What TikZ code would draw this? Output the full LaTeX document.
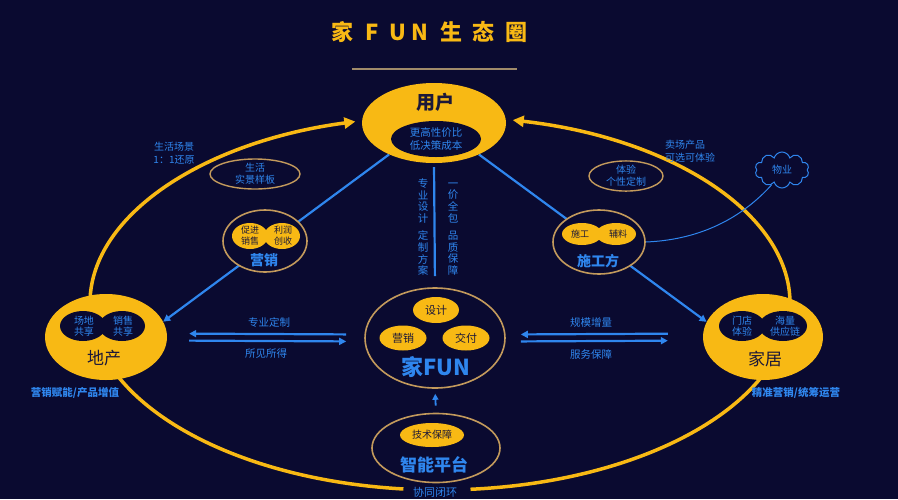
\documentclass[tikz,border=0pt]{standalone}
\usepackage{fontspec}
\setmainfont{Noto Sans CJK SC}
\usetikzlibrary{shapes.geometric,shapes.symbols,arrows.meta}
\pgfdeclarelayer{bgl}
\pgfdeclarelayer{midl}
\pgfsetlayers{bgl,midl,main}
\definecolor{bgc}{HTML}{0A0A30}
\definecolor{gold}{HTML}{F8B914}
\definecolor{sky}{HTML}{2F86EE}
\definecolor{tanc}{HTML}{C39A5C}
\definecolor{ink}{HTML}{1C1838}
\definecolor{rulec}{HTML}{A08B6A}
\newcommand{\fsz}[2]{\fontsize{#1}{#2}\selectfont}
\begin{document}
\begin{tikzpicture}[x=1pt,y=-1pt,
  goldell/.style={ellipse, fill=gold, draw=none, inner sep=0pt},
  darkell/.style={ellipse, fill=bgc, draw=none, inner sep=0pt},
  ring/.style={ellipse, fill=bgc, draw=tanc, line width=1.6pt, inner sep=0pt},
  thinring/.style={ellipse, draw=tanc, line width=1.4pt, inner sep=0pt},
  bluetxt/.style={text=sky, inner sep=0pt, align=center},
  inktxt/.style={text=ink, inner sep=0pt, align=center},
  orbit/.style={gold, line width=3.5pt, -{Triangle[length=11pt,width=11pt]}},
  bline/.style={sky, line width=2.2pt},
  barrow/.style={bline, -{Triangle[length=7pt,width=7pt]}},
]
\begin{pgfonlayer}{bgl}
\fill[bgc] (0,0) rectangle (898,499);
\end{pgfonlayer}
\useasboundingbox (0,0) rectangle (898,499);

% title
\foreach \c/\xx [count=\i] in {家/342,F/372,U/398,N/420,生/451,态/483,圈/516}
  \node[text=gold, font=\fsz{22}{22}\bfseries, inner sep=0pt] (t\i) at (\xx,32) {\c};
\draw[rulec, line width=1.5pt] (352,69) -- (517,69);

% ---------- nodes ----------
% user
\node[goldell, minimum width=144, minimum height=80] (user) at (434,123) {};
\node[inktxt, font=\fsz{19}{19}\bfseries] (userlbl) at (435,102) {用户};
\node[darkell, minimum width=90, minimum height=36, text=sky, align=center, font=\fsz{10.5}{12.5}] (userin) at (436,139) {更高性价比\\低决策成本};

% dichan
\node[goldell, minimum width=122, minimum height=86] (dichan) at (106,337) {};
\node[darkell, minimum width=46, minimum height=30] (dcl) at (83,326) {};
\node[darkell, minimum width=46, minimum height=30] (dcr) at (122,326) {};
\node[bluetxt, font=\fsz{10}{11.5}] (dcltxt) at (84,326) {场地\\共享};
\node[bluetxt, font=\fsz{10}{11.5}] (dcrtxt) at (123,326) {销售\\共享};
\node[inktxt, font=\fsz{17}{17}] (dclbl) at (104,358) {地产};
\node[bluetxt, font=\fsz{10.5}{10.5}\bfseries] (dcnote) at (75,393) {营销赋能/产品增值};

% jiaju
\node[goldell, minimum width=120, minimum height=86] (jiaju) at (763,337) {};
\node[darkell, minimum width=46, minimum height=30] (jjl) at (742,326) {};
\node[darkell, minimum width=48, minimum height=30] (jjr) at (783,326) {};
\node[bluetxt, font=\fsz{10}{11.5}] (jjltxt) at (742,326) {门店\\体验};
\node[bluetxt, font=\fsz{10}{11.5}] (jjrtxt) at (785,326) {海量\\供应链};
\node[inktxt, font=\fsz{17}{17}] (jjlbl) at (765,359) {家居};
\node[bluetxt, font=\fsz{10.5}{10.5}\bfseries] (jjnote) at (796,393) {精准营销/统筹运营};

% center FUN
\node[ring, minimum width=140, minimum height=100] (fun) at (435,338) {};
\node[goldell, minimum width=46, minimum height=26, text=ink, font=\fsz{11}{11}] (design) at (436,310) {设计};
\node[goldell, minimum width=47, minimum height=25, text=ink, font=\fsz{11}{11}] (mkt) at (403,338) {营销};
\node[goldell, minimum width=47, minimum height=25, text=ink, font=\fsz{11}{11}] (deliv) at (466,338) {交付};
\node[bluetxt, font=\fsz{22}{22}\bfseries] (funlbl) at (436,367) {家FUN};

% platform
\node[ring, minimum width=128, minimum height=69] (plat) at (436,448) {};
\node[goldell, minimum width=64, minimum height=24, text=ink, font=\fsz{10}{10}] (tech) at (432,435) {技术保障};
\node[bluetxt, font=\fsz{17}{17}\bfseries] (platlbl) at (434,465) {智能平台};

% yingxiao
\node[ring, minimum width=84, minimum height=62] (yx) at (265,241) {};
\node[goldell, minimum width=36, minimum height=26] (yxl) at (250,236) {};
\node[goldell, minimum width=36, minimum height=26] (yxr) at (282,236) {};
\node[inktxt, font=\fsz{9}{11}] (yxltxt) at (250,236) {促进\\销售};
\node[inktxt, font=\fsz{9}{11}] (yxrtxt) at (283,236) {利润\\创收};
\node[bluetxt, font=\fsz{14}{14}\bfseries] (yxlbl) at (264,260) {营销};

% shigongfang
\node[ring, minimum width=92, minimum height=64] (sgf) at (599,242) {};
\node[goldell, minimum width=40, minimum height=22] (sgl) at (582,234) {};
\node[goldell, minimum width=40, minimum height=22] (sgr) at (616,234) {};
\node[inktxt, font=\fsz{9}{9}] (sgltxt) at (580,234) {施工};
\node[inktxt, font=\fsz{9}{9}] (sgrtxt) at (618,234) {辅料};
\node[bluetxt, font=\fsz{14}{14}\bfseries] (sgflbl) at (598,261) {施工方};

% small rings and notes
\node[thinring, minimum width=90, minimum height=28, text=sky, align=center, font=\fsz{10}{12}] (sjyb) at (255,174) {生活\\实景样板};
\node[thinring, minimum width=74, minimum height=28, text=sky, align=center, font=\fsz{10}{12}] (tydz) at (626,176) {体验\\个性定制};
\node[bluetxt, font=\fsz{10}{13.5}] (note1) at (174,153) {生活场景\\1：1还原};
\node[bluetxt, font=\fsz{10}{13.5}, anchor=west, align=left] (note2) at (665,151) {卖场产品\\可选可体验};
\node[cloud, cloud puffs=10, aspect=1.6, draw=sky, line width=1pt, minimum width=54, minimum height=36, text=sky, font=\fsz{10}{10}, inner sep=0pt] (wuye) at (782,170) {物业};

% vertical texts
\node[bluetxt, font=\fsz{10.5}{11.6}] (vleft) at (423,227) {专\\业\\设\\计\\[6pt]定\\制\\方\\案};
\node[bluetxt, font=\fsz{10.5}{11.6}] (vright) at (453,229) {一\\价\\全\\包\\[6pt]品\\质\\保\\障};

% horizontal labels
\node[bluetxt, font=\fsz{10.5}{10.5}] (hl1) at (269,322) {专业定制};
\node[bluetxt, font=\fsz{10.5}{10.5}] (hl2) at (266,354) {所见所得};
\node[bluetxt, font=\fsz{10.5}{10.5}] (hr1) at (591,322) {规模增量};
\node[bluetxt, font=\fsz{10.5}{10.5}] (hr2) at (591,354) {服务保障};

% bottom
\node[bluetxt, font=\fsz{11}{11}] (loop) at (435,492) {协同闭环};

% ---------- connectors ----------
\begin{pgfonlayer}{midl}
\draw[orbit] (440,303) ++(96:350 and 187) arc[start angle=96, end angle=256, x radius=350, y radius=187];
\draw[orbit] (440,303) ++(85:350 and 187) arc[start angle=85, end angle=-78, x radius=350, y radius=187];

\draw[barrow] (user.215) -- (dichan.15);
\draw[barrow] (user.325) -- (jiaju.165);
\draw[bline, shorten <=4pt, shorten >=11pt] (user.south) -- (fun.north);
\draw[bline, line width=1.8pt, -{Triangle[length=6pt,width=6pt]}, shorten <=7pt, shorten >=5pt] (plat.north) -- (fun.south);

\draw[barrow, shorten <=18pt, shorten >=22pt] ([yshift=3.5pt]fun.west) -- ([yshift=3.5pt]dichan.east);
\draw[barrow, shorten <=22pt, shorten >=18pt] ([yshift=-3.5pt]dichan.east) -- ([yshift=-3.5pt]fun.west);
\draw[barrow, shorten <=35pt, shorten >=15pt] ([yshift=3.5pt]jiaju.west) -- ([yshift=3.5pt]fun.east);
\draw[barrow, shorten <=15pt, shorten >=35pt] ([yshift=-3.5pt]fun.east) -- ([yshift=-3.5pt]jiaju.west);

\draw[sky, line width=1pt] (sgf.east) .. controls (695,240) and (738,222) .. (wuye.235);
\end{pgfonlayer}
\end{tikzpicture}
\end{document}
